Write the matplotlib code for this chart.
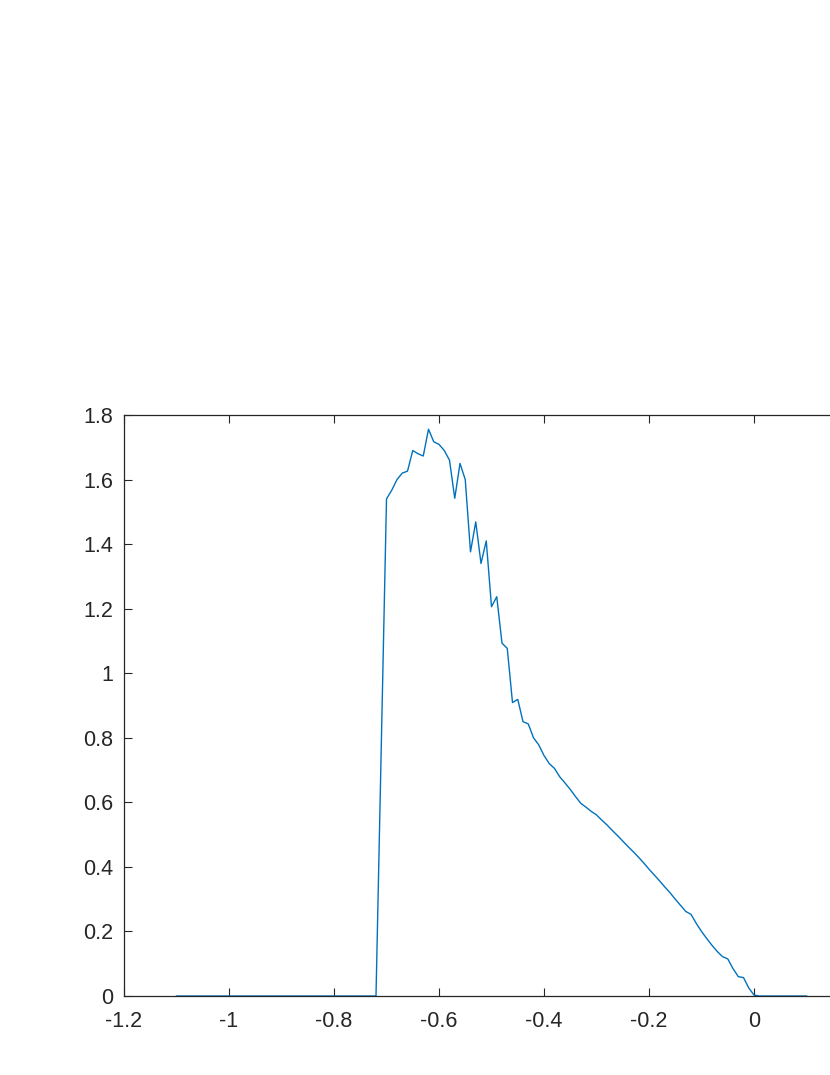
import matplotlib
matplotlib.use("Agg")
import matplotlib.pyplot as plt

# breakpoints of the curve (flat zero segments only need their ends)
x_vals = [-1.10, -0.72,
          -0.70, -0.69, -0.68, -0.67, -0.66, -0.65, -0.64, -0.63, -0.62, -0.61,
          -0.60, -0.59, -0.58, -0.57, -0.56, -0.55, -0.54, -0.53, -0.52, -0.51,
          -0.50, -0.49, -0.48, -0.47, -0.46, -0.45, -0.44, -0.43, -0.42, -0.41,
          -0.40, -0.39, -0.38, -0.37, -0.36, -0.35, -0.34, -0.33, -0.32, -0.31,
          -0.30, -0.29, -0.28, -0.27, -0.26, -0.25, -0.24, -0.23, -0.22, -0.21,
          -0.20, -0.19, -0.18, -0.17, -0.16, -0.15, -0.14, -0.13, -0.12, -0.11,
          -0.10, -0.09, -0.08, -0.07, -0.06, -0.05, -0.04, -0.03, -0.02, -0.01,
          0.00, 0.01, 0.10]
y_vals = [0.0, 0.0,
          1.540, 1.567, 1.600, 1.620, 1.626, 1.690, 1.680, 1.673, 1.756, 1.717,
          1.709, 1.690, 1.660, 1.542, 1.650, 1.600, 1.376, 1.469, 1.340, 1.410,
          1.206, 1.237, 1.093, 1.077, 0.909, 0.919, 0.850, 0.843, 0.800, 0.778,
          0.745, 0.720, 0.705, 0.679, 0.660, 0.640, 0.618, 0.597, 0.585, 0.572,
          0.561, 0.545, 0.530, 0.513, 0.497, 0.480, 0.463, 0.447, 0.430, 0.412,
          0.393, 0.375, 0.357, 0.338, 0.320, 0.300, 0.281, 0.262, 0.253, 0.225,
          0.200, 0.178, 0.157, 0.138, 0.122, 0.115, 0.085, 0.060, 0.057, 0.025,
          0.003, 0.0, 0.0]

# the 0.2 tick sits past the picture's right edge, so its label is not shown
x_ticks = [-1.2, -1.0, -0.8, -0.6, -0.4, -0.2, 0.0, 0.2]
x_labels = ["-1.2", "-1", "-0.8", "-0.6", "-0.4", "-0.2", "0", ""]
y_ticks = [0, 0.2, 0.4, 0.6, 0.8, 1.0, 1.2, 1.4, 1.6, 1.8]
y_labels = ["0", "0.2", "0.4", "0.6", "0.8", "1", "1.2", "1.4", "1.6", "1.8"]

plt.rcParams["font.family"] = ["Liberation Sans", "DejaVu Sans"]

fig = plt.figure(figsize=(8.3, 10.75), dpi=100)
# axes run past the right edge of the picture, as in the reference
ax = fig.add_axes([124 / 830, 79 / 1075, 735 / 830, 581 / 1075])
ax.plot(x_vals, y_vals, color="#0072BD", linewidth=1.0)

ax.set_xlim(-1.2, 0.2)
ax.set_ylim(0, 1.8)
ax.set_xticks(x_ticks)
ax.set_xticklabels(x_labels)
ax.set_yticks(y_ticks)
ax.set_yticklabels(y_labels)
ax.tick_params(direction="in", length=6, width=0.8, colors="#262626",
               labelsize=15.5, top=True, right=True)
ax.tick_params(axis="x", pad=11)
ax.tick_params(axis="y", pad=8)
for s in ax.spines.values():
    s.set_color("#262626")
    s.set_linewidth(0.9)

fig.savefig("out.png", dpi=100)
